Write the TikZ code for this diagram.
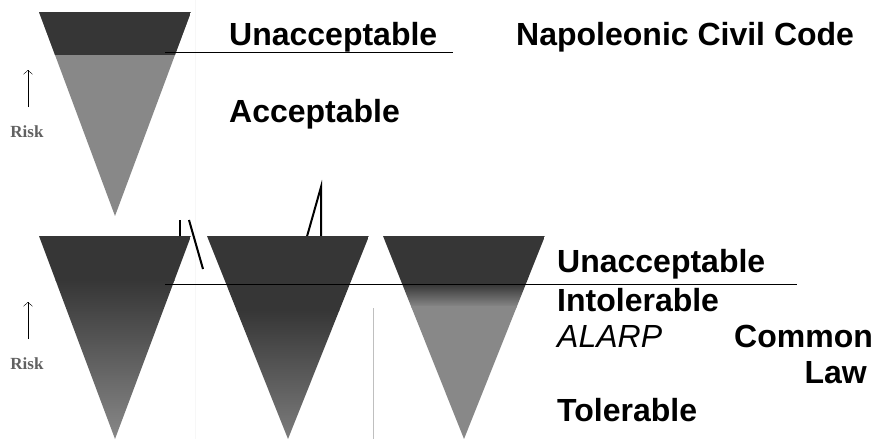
\documentclass[tikz,border=0pt]{standalone}
\usepackage{fontspec}
\newfontfamily\arialfont{Liberation Sans}
\newfontfamily\timesfont{Liberation Serif}
\definecolor{riskdark}{HTML}{363636}
\definecolor{risklight}{HTML}{888888}
\definecolor{riskmid}{HTML}{7C7C7C}
\usetikzlibrary{positioning,arrows.meta}
\begin{document}
\begin{tikzpicture}[
  x=1pt, y=-1pt,
  label/.style={inner sep=0pt, anchor=base west, font=\arialfont\bfseries\fontsize{32}{38}\selectfont},
  risk/.style={inner sep=0pt, anchor=base, text=black!62, font=\timesfont\bfseries\fontsize{17}{20}\selectfont},
  stroke/.style={line width=2pt, line join=miter},
  level/.style={line width=1pt}
]
\useasboundingbox (0,0) rectangle (877,439);

% faint guide
\draw[gray!6] (195,0) -- (195,439);

% broken strokes behind the cones
\draw[stroke] (180,245) -- (180,220);
\draw[stroke] (189,220) -- (203,269);
\draw[stroke] (321,240) -- (321,187) -- (306,240);

% Napoleonic cone
\begin{scope}
  \clip (39,12) -- (191,12) -- (115,216) -- cycle;
  \fill[risklight] (39,12) rectangle (191,216);
  \fill[riskdark] (39,12) rectangle (191,55);
\end{scope}

% Common law cones
\begin{scope}
  \clip (39,236) -- (191,236) -- (115,439) -- cycle;
  \fill[riskdark] (39,236) rectangle (191,281);
  \shade[top color=riskdark, bottom color=risklight] (39,280) rectangle (191,439);
\end{scope}
\begin{scope}
  \clip (207,236) -- (369,236) -- (288,439) -- cycle;
  \fill[riskdark] (207,236) rectangle (369,311);
  \shade[top color=riskdark, bottom color=riskmid] (207,310) rectangle (369,439);
\end{scope}
\begin{scope}
  \clip (383,236) -- (545,236) -- (464,439) -- cycle;
  \fill[riskdark] (383,236) rectangle (545,285);
  \shade[top color=riskdark, bottom color=risklight] (383,284) rectangle (545,307);
  \fill[risklight] (383,306) rectangle (545,439);
\end{scope}
\draw[gray!50] (373,308) -- (373,439);

% Risk axes
\node[risk] (risktop) at (27,137) {Risk};
\node[risk] (riskbot) at (27,369) {Risk};
\coordinate (uptop) at (28,70);
\coordinate (upbot) at (28,302);
\draw[-{Straight Barb[length=4pt,width=9pt]}] (28,107) -- (uptop);
\draw[-{Straight Barb[length=4pt,width=9pt]}] (28,339) -- (upbot);

% Napoleonic labels
\node[label] (unacc1) at (229,45) {Unacceptable};
\node[label] (acc) at (229,122) {Acceptable};
\node[label] (napoleon) at (516,45) {Napoleonic Civil Code};
\coordinate (cut1) at (165,52);
\draw[level] (cut1) -- ++(288,0);

% Common law labels
\node[label] (unacc2) at (557,272) {Unacceptable};
\node[label] (intol) at (557,311) {Intolerable};
\node[label, font=\arialfont\itshape\fontsize{32}{38}\selectfont] (alarp) at (557,347) {ALARP};
\node[label] (common) at (734,347) {Common};
\node[label, anchor=base east] (law) at (867,383) {Law};
\node[label] (tol) at (557,421) {Tolerable};
\coordinate (cut2) at (165,284);
\draw[level] (cut2) -- ++(632,0);
\end{tikzpicture}
\end{document}
